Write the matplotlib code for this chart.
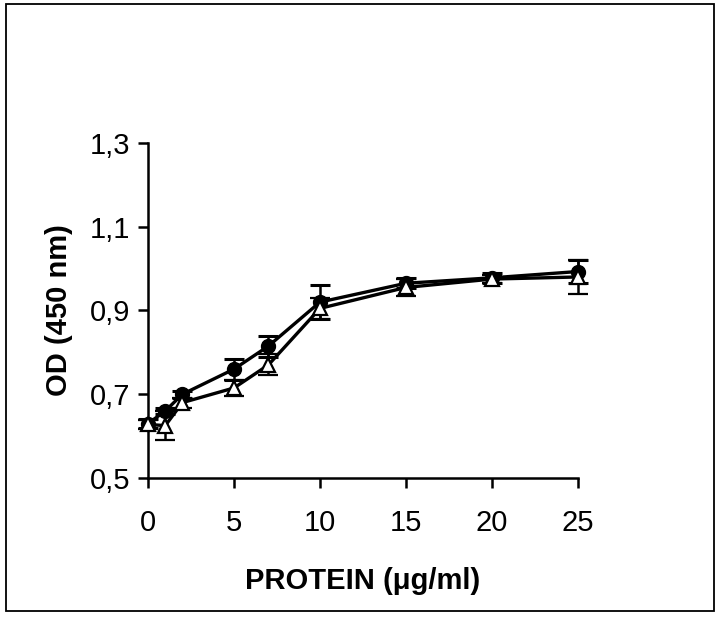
import matplotlib
matplotlib.use('Agg')
import matplotlib.pyplot as plt
from matplotlib.patches import Rectangle

plt.rcParams['font.family'] = ['Liberation Sans', 'DejaVu Sans']

# protein concentration (ug/ml)
protein = [0, 1, 2, 5, 7, 10, 15, 20, 25]

# filled circles
od_circle = [0.630, 0.660, 0.700, 0.760, 0.815, 0.920, 0.965, 0.978, 0.993]
err_circle = [0.010, 0.008, 0.008, 0.025, 0.025, 0.040, 0.012, 0.012, 0.027]

# open triangles
od_tri = [0.628, 0.625, 0.680, 0.715, 0.770, 0.905, 0.955, 0.975, 0.980]
err_tri = [0.010, 0.035, 0.012, 0.020, 0.025, 0.025, 0.020, 0.010, 0.040]

yticks = [0.5, 0.7, 0.9, 1.1, 1.3]
ytick_labels = ['0,5', '0,7', '0,9', '1,1', '1,3']
xticks = [0, 5, 10, 15, 20, 25]

fig = plt.figure(figsize=(7.2, 6.17), dpi=100)
ax = fig.add_axes([0.2056, 0.2253, 0.597, 0.543])

# border around the whole figure
fig.patches.append(Rectangle((0.008, 0.009), 0.983, 0.984, transform=fig.transFigure,
                             fill=False, edgecolor='black', linewidth=1.3))

tri = ax.errorbar(protein, od_tri, yerr=err_tri, color='black', linewidth=2.4,
                  marker='^', markersize=10, markerfacecolor='white', markeredgecolor='black',
                  markeredgewidth=1.6, capsize=7, capthick=2.2, elinewidth=1.8, zorder=3)
circ = ax.errorbar(protein, od_circle, yerr=err_circle, color='black', linewidth=2.4,
                   marker='o', markersize=10, markerfacecolor='black', markeredgecolor='black',
                   capsize=7, capthick=2.2, elinewidth=1.8, zorder=2)
for eb in (tri, circ):
    for art in eb.get_children():
        art.set_clip_on(False)

ax.set_xlim(0, 25)
ax.set_ylim(0.5, 1.3)
ax.set_xticks(xticks)
ax.set_yticks(yticks)
ax.set_yticklabels(ytick_labels)

for s in ['top', 'right']:
    ax.spines[s].set_visible(False)
for s in ['left', 'bottom']:
    ax.spines[s].set_linewidth(1.8)

ax.tick_params(direction='out', length=7, width=1.8, labelsize=21)
ax.tick_params(axis='x', pad=15)
ax.tick_params(axis='y', pad=6)

ax.set_xlabel('PROTEIN (\u03bcg/ml)', fontsize=21, fontweight='bold', labelpad=22)
ax.set_ylabel('OD (450 nm)', fontsize=21, fontweight='bold', labelpad=12)

fig.savefig('out.png', dpi=100, facecolor='white')
